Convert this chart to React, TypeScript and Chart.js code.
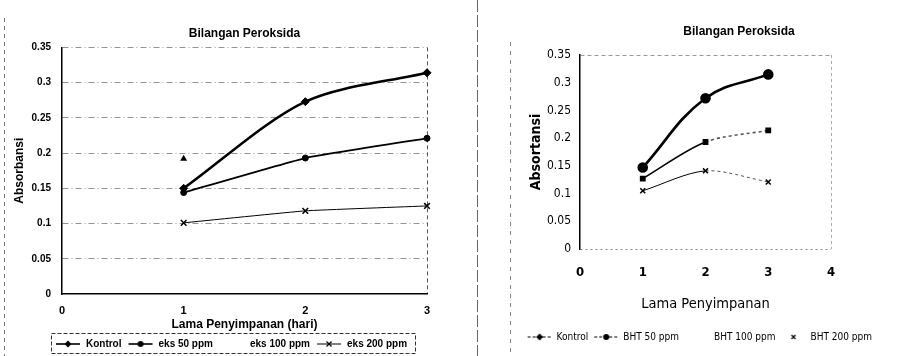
import React, { useEffect, useRef } from 'react';
import { Chart, registerables } from 'chart.js';

Chart.register(...registerables);

// ---------- data ----------
const days = [1, 2, 3];
const yTickLabels = ['0', '0.05', '0.1', '0.15', '0.2', '0.25', '0.3', '0.35'];

const chartTitle = 'Bilangan Peroksida';

// left chart (eks)
const leftNames = ['Kontrol', 'eks 50 ppm', 'eks 100 ppm', 'eks 200 ppm'];
const leftKontrol = [0.15, 0.273, 0.314];
const leftEks50 = [0.144, 0.193, 0.221];
const leftEks100 = [0.192, null, null];
const leftEks200 = [0.101, 0.118, 0.125];
const leftXTitle = 'Lama Penyimpanan (hari)';
const leftYTitle = 'Absorbansi';
const leftXTickLabels = ['0', '1', '2', '3'];

// right chart (BHT)
const rightNames = ['Kontrol', 'BHT 50 ppm', 'BHT 100 ppm', 'BHT 200 ppm'];
const rightKontrol = [0.147, 0.272, 0.315];
const rightBht50 = [0.127, 0.193, 0.214];
const rightBht100: (number | null)[] = [null, null, null];
const rightBht200 = [0.105, 0.141, 0.121];
const rightXTitle = 'Lama Penyimpanan';
const rightYTitle = 'Absortansi';
const rightXTickLabels = ['0', '1', '2', '3', '4'];

// ---------- helpers ----------
const ARIAL = "'Liberation Sans', Arial, sans-serif";
const NARROW = "'Liberation Sans Narrow', 'DejaVu Sans Condensed', 'Liberation Sans', sans-serif";

const toPoints = (ys: (number | null)[]) =>
  days.map((d, i) => ({ x: d, y: ys[i] })).filter((p) => p.y !== null);

const yLabel = (v: any) => {
  const i = Math.round(Number(v) / 0.05);
  return yTickLabels[i] !== undefined ? yTickLabels[i] : String(v);
};

type GlyphSpec = { line: 'solid' | 'dash' | 'none'; marker: 'diamond' | 'circle' | 'square' | 'x' | 'none'; lw: number; size: number };

function makeGlyph(g: GlyphSpec, w = 26, h = 10) {
  const c = document.createElement('canvas');
  c.width = w;
  c.height = h;
  const ctx = c.getContext('2d')!;
  const cx = w / 2;
  const cy = h / 2;
  ctx.strokeStyle = '#000';
  ctx.fillStyle = '#000';
  if (g.line !== 'none') {
    ctx.lineWidth = g.lw;
    ctx.setLineDash(g.line === 'dash' ? [3, 2] : []);
    ctx.beginPath();
    ctx.moveTo(1, cy);
    ctx.lineTo(w - 1, cy);
    ctx.stroke();
    ctx.setLineDash([]);
  }
  const s = g.size;
  if (g.marker === 'diamond') {
    ctx.beginPath();
    ctx.moveTo(cx, cy - s);
    ctx.lineTo(cx + s, cy);
    ctx.lineTo(cx, cy + s);
    ctx.lineTo(cx - s, cy);
    ctx.closePath();
    ctx.fill();
  } else if (g.marker === 'circle') {
    ctx.beginPath();
    ctx.arc(cx, cy, s, 0, Math.PI * 2);
    ctx.fill();
  } else if (g.marker === 'square') {
    ctx.fillRect(cx - s, cy - s, 2 * s, 2 * s);
  } else if (g.marker === 'x') {
    ctx.lineWidth = 1.2;
    ctx.beginPath();
    ctx.moveTo(cx - s, cy - s);
    ctx.lineTo(cx + s, cy + s);
    ctx.moveTo(cx + s, cy - s);
    ctx.lineTo(cx - s, cy + s);
    ctx.stroke();
  }
  return c;
}

const makeLabels = (glyphs: HTMLCanvasElement[]) => (chart: any) =>
  chart.data.datasets.map((ds: any, i: number) => ({
    text: ds.label,
    pointStyle: glyphs[i],
    fillStyle: 'rgba(0,0,0,0)',
    strokeStyle: 'rgba(0,0,0,0)',
    lineWidth: 0,
    hidden: false,
    datasetIndex: i,
    fontColor: '#000',
  }));

type Line = { x: number; y1: number; y2: number; color: string; width: number; dash: number[] };
type Txt = { text: string; x: number; y: number; font: string; color: string };

const makeDecor = (lines: Line[], texts: Txt[], frame: null | { color: string; dash: number[] }) => ({
  id: 'decor',
  afterDraw(chart: any) {
    const ctx = chart.ctx;
    lines.forEach((ln) => {
      ctx.save();
      ctx.strokeStyle = ln.color;
      ctx.lineWidth = ln.width;
      ctx.setLineDash(ln.dash);
      ctx.beginPath();
      ctx.moveTo(ln.x, ln.y1);
      ctx.lineTo(ln.x, ln.y2);
      ctx.stroke();
      ctx.restore();
    });
    texts.forEach((t) => {
      ctx.save();
      ctx.font = t.font;
      ctx.fillStyle = t.color;
      ctx.textAlign = 'center';
      ctx.textBaseline = 'middle';
      ctx.fillText(t.text, t.x, t.y);
      ctx.restore();
    });
    if (frame) {
      const lg: any = chart.legend;
      const hb = lg && lg.legendHitBoxes;
      if (hb && hb.length) {
        const first = hb[0];
        const last = hb[hb.length - 1];
        const x0 = Math.round(first.left - 4) + 0.5;
        const x1 = Math.round(last.left + last.width + 8) + 0.5;
        const y0 = Math.round(lg.top) + 0.5;
        ctx.save();
        ctx.strokeStyle = frame.color;
        ctx.lineWidth = 1;
        ctx.setLineDash(frame.dash);
        ctx.strokeRect(x0, y0, x1 - x0, 20);
        ctx.restore();
      }
    }
  },
});

const transparent = 'rgba(0,0,0,0)';

function leftConfig(): any {
  const glyphs = [
    makeGlyph({ line: 'solid', marker: 'diamond', lw: 1.6, size: 3.5 }),
    makeGlyph({ line: 'solid', marker: 'circle', lw: 1.6, size: 3 }),
    makeGlyph({ line: 'none', marker: 'none', lw: 1, size: 0 }),
    makeGlyph({ line: 'solid', marker: 'x', lw: 1, size: 2.5 }),
  ];
  return {
    type: 'line',
    data: {
      datasets: [
        { label: leftNames[0], data: toPoints(leftKontrol), borderColor: '#000', backgroundColor: '#000', borderWidth: 2.6, pointStyle: 'rectRot', pointRadius: 4, pointBorderWidth: 1, tension: 0.3, clip: false },
        { label: leftNames[1], data: toPoints(leftEks50), borderColor: '#000', backgroundColor: '#000', borderWidth: 1.8, pointStyle: 'circle', pointRadius: 3, pointBorderWidth: 1, tension: 0.1, clip: false },
        { label: leftNames[2], data: toPoints(leftEks100), borderColor: '#000', backgroundColor: '#000', borderWidth: 0, showLine: false, pointStyle: 'triangle', pointRadius: 4, clip: false },
        { label: leftNames[3], data: toPoints(leftEks200), borderColor: '#000', backgroundColor: '#000', borderWidth: 1, pointStyle: 'crossRot', pointRadius: 4, pointBorderWidth: 1.5, tension: 0.1, clip: false },
      ],
    },
    plugins: [
      makeDecor(
        [{ x: 4.5, y1: 18, y2: 356, color: '#777', width: 1, dash: [4, 4] }],
        [],
        { color: '#333', dash: [4, 2] }
      ),
    ],
    options: {
      responsive: false,
      animation: false,
      events: [],
      layout: { padding: { left: 12, right: 0, top: 0, bottom: -3 } },
      plugins: {
        title: {
          display: true,
          text: chartTitle,
          fullSize: false,
          color: '#000',
          font: { family: ARIAL, size: 12, weight: 'bold' },
          padding: { top: 26, bottom: 7 },
        },
        legend: {
          position: 'bottom',
          align: 'center',
          labels: {
            usePointStyle: true,
            pointStyleWidth: 26,
            padding: 6,
            color: '#000',
            font: { family: ARIAL, size: 10, weight: 'bold' },
            generateLabels: makeLabels(glyphs),
          },
        },
        tooltip: { enabled: false },
      },
      scales: {
        x: {
          type: 'linear',
          min: 0,
          max: 3,
          afterFit: (s: any) => { s.height = 39; },
          ticks: {
            stepSize: 1,
            padding: 10,
            color: '#000',
            font: { family: ARIAL, size: 11, weight: 'bold' },
            callback: (v: any) => leftXTickLabels[Math.round(Number(v))] ?? String(v),
          },
          grid: {
            drawTicks: false,
            lineWidth: 1,
            color: (c: any) => (c.tick && c.tick.value === 3 ? '#555' : transparent),
          },
          border: { color: '#000', width: 1.5, dash: [4, 3] },
          title: {
            display: true,
            text: leftXTitle,
            color: '#000',
            font: { family: ARIAL, size: 12, weight: 'bold' },
            padding: { top: 0, bottom: 1 },
          },
        },
        y: {
          min: 0,
          max: 0.35,
          afterFit: (s: any) => { s.width = 50; },
          ticks: {
            stepSize: 0.05,
            padding: 11,
            color: '#000',
            font: { family: ARIAL, size: 10, weight: 'bold' },
            callback: yLabel,
          },
          grid: {
            drawTicks: false,
            lineWidth: 0.8,
            color: (c: any) => (c.tick && c.tick.value === 0 ? transparent : '#777'),
          },
          border: { color: '#000', width: 1.5, dash: [6, 3, 1, 3] },
          title: {
            display: true,
            text: leftYTitle,
            color: '#000',
            font: { family: ARIAL, size: 12, weight: 'bold' },
            padding: { top: 0, bottom: 0 },
          },
        },
        yr: {
          position: 'right',
          display: true,
          afterFit: (s: any) => { s.width = 23; },
          ticks: { display: false },
          grid: { display: false },
          border: { display: false },
        },
      },
    },
  };
}

function rightConfig(): any {
  const glyphs = [
    makeGlyph({ line: 'dash', marker: 'diamond', lw: 1, size: 3.5 }),
    makeGlyph({ line: 'dash', marker: 'circle', lw: 1, size: 3 }),
    makeGlyph({ line: 'none', marker: 'none', lw: 1, size: 0 }),
    makeGlyph({ line: 'none', marker: 'x', lw: 1, size: 2 }),
  ];
  const dashAfterFirst = (c: any) => (c.p0DataIndex >= 1 ? [3, 3] : undefined);
  const greyAfterFirst = (c: any) => (c.p0DataIndex >= 1 ? '#555' : undefined);
  return {
    type: 'line',
    data: {
      datasets: [
        { label: rightNames[0], data: toPoints(rightKontrol), borderColor: '#000', backgroundColor: '#000', borderWidth: 2.6, pointStyle: 'circle', pointRadius: 4, tension: 0.4, clip: false },
        { label: rightNames[1], data: toPoints(rightBht50), borderColor: '#000', backgroundColor: '#000', borderWidth: 1.6, pointStyle: 'rect', pointRadius: 3, tension: 0.3, clip: false, segment: { borderDash: dashAfterFirst, borderColor: greyAfterFirst } },
        { label: rightNames[2], data: toPoints(rightBht100), borderColor: '#000', backgroundColor: '#000', borderWidth: 1, pointRadius: 3, clip: false },
        { label: rightNames[3], data: toPoints(rightBht200), borderColor: '#000', backgroundColor: '#000', borderWidth: 1, pointStyle: 'crossRot', pointRadius: 3.5, pointBorderWidth: 1.5, tension: 0.3, clip: false, segment: { borderDash: dashAfterFirst, borderColor: greyAfterFirst } },
      ],
    },
    plugins: [
      makeDecor(
        [
          { x: 27.5, y1: 0, y2: 356, color: '#666', width: 1, dash: [12, 3] },
          { x: 60.5, y1: 42, y2: 356, color: '#888', width: 1, dash: [4, 5] },
        ],
        [{ text: chartTitle, x: 289, y: 32, font: `bold 12px ${ARIAL}`, color: '#000' }],
        null
      ),
    ],
    options: {
      responsive: false,
      animation: false,
      events: [],
      layout: { padding: { left: 0, right: 23, top: 55, bottom: 4 } },
      plugins: {
        title: { display: false },
        legend: {
          position: 'bottom',
          align: 'end',
          labels: {
            usePointStyle: true,
            pointStyleWidth: 24,
            padding: 6,
            color: '#000',
            font: { family: NARROW, size: 10 },
            generateLabels: makeLabels(glyphs),
          },
        },
        tooltip: { enabled: false },
      },
      scales: {
        x: {
          type: 'linear',
          min: 0,
          max: 4,
          afterFit: (s: any) => { s.height = 77; },
          ticks: {
            stepSize: 1,
            padding: 16,
            color: '#000',
            font: { family: NARROW, size: 13, weight: 'bold' },
            callback: (v: any) => rightXTickLabels[Math.round(Number(v))] ?? String(v),
          },
          grid: {
            drawTicks: false,
            lineWidth: 1,
            color: (c: any) => (c.tick && c.tick.value === 4 ? '#aaa' : transparent),
          },
          border: { display: false, dash: [3, 3] },
          title: {
            display: true,
            text: rightXTitle,
            color: '#000',
            font: { family: NARROW, size: 14.5 },
            padding: { top: 0, bottom: 13 },
          },
        },
        y: {
          min: 0,
          max: 0.35,
          afterFit: (s: any) => { s.width = 130; },
          ticks: {
            stepSize: 0.05,
            padding: 9,
            color: '#000',
            font: { family: NARROW, size: 12 },
            callback: yLabel,
          },
          grid: {
            drawTicks: false,
            lineWidth: 1,
            color: (c: any) => {
              const v = c.tick ? c.tick.value : -1;
              if (v === 0) return '#888';
              if (Math.abs(v - 0.35) < 1e-6) return '#999';
              return transparent;
            },
          },
          border: { color: '#000', width: 1.5, dash: (c: any) => (c.tick && c.tick.value === 0 ? [2, 3] : [4, 3]) },
          title: {
            display: true,
            text: rightYTitle,
            color: '#000',
            font: { family: NARROW, size: 14, weight: 'bold' },
            padding: { top: 77.6, bottom: 0 },
          },
        },
        yr: {
          position: 'right',
          display: true,
          afterFit: (s: any) => { s.width = 47; },
          ticks: { display: false },
          grid: { display: false },
          border: { display: false },
        },
      },
    },
  };
}

export default function App() {
  const leftRef = useRef<HTMLCanvasElement>(null);
  const rightRef = useRef<HTMLCanvasElement>(null);

  useEffect(() => {
    document.body.style.margin = '0';
    const l = new Chart(leftRef.current!, leftConfig());
    const r = new Chart(rightRef.current!, rightConfig());
    return () => {
      l.destroy();
      r.destroy();
    };
  }, []);

  return (
    <div style={{ position: 'relative', width: 901, height: 356, overflow: 'hidden', background: '#fff' }}>
      <canvas ref={leftRef} width={450} height={356} style={{ position: 'absolute', left: 0, top: 0 }} />
      <canvas ref={rightRef} width={451} height={356} style={{ position: 'absolute', left: 450, top: 0 }} />
    </div>
  );
}
